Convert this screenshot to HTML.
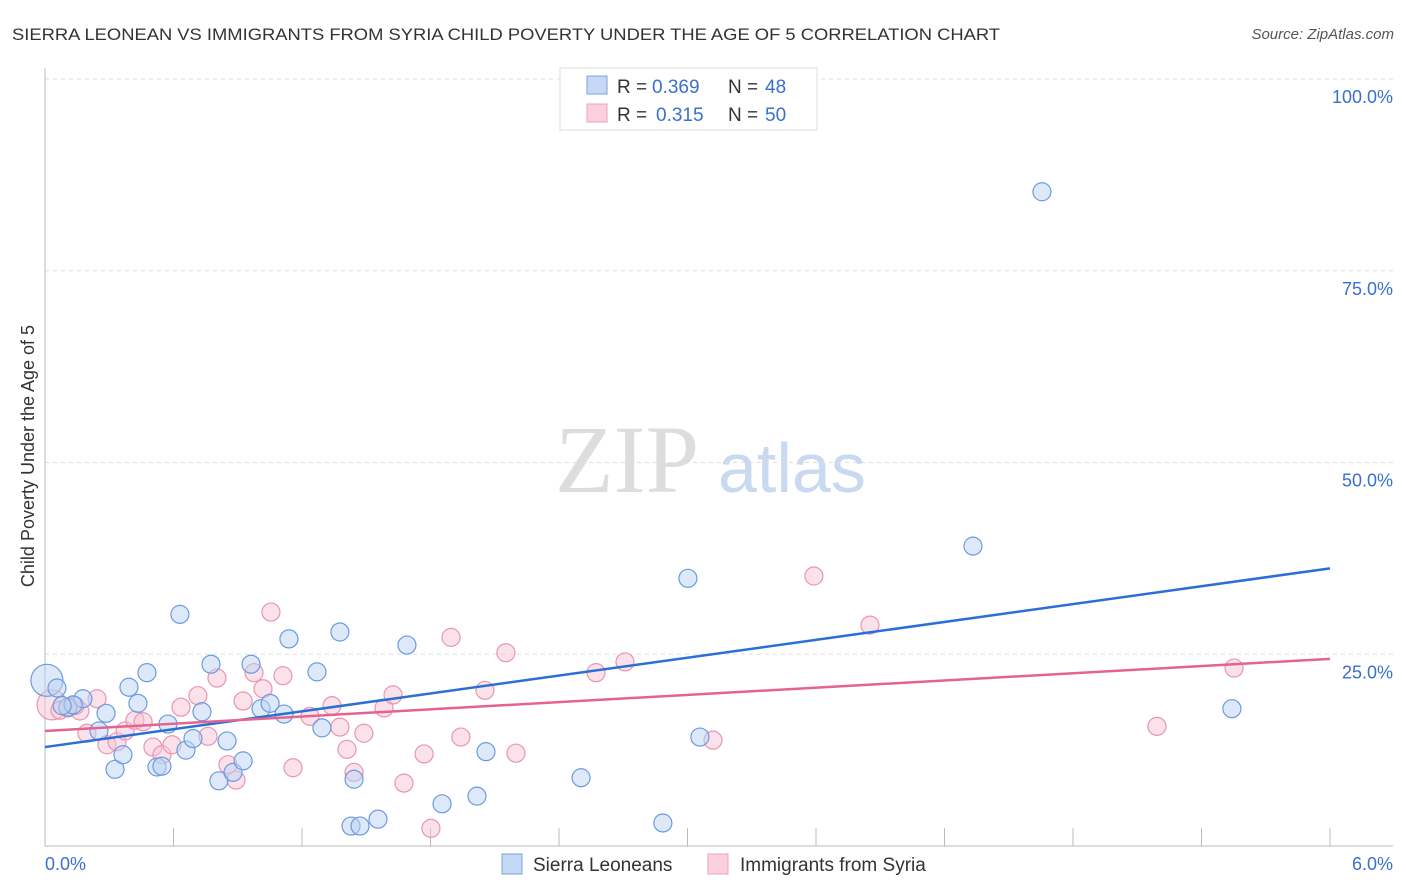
<!DOCTYPE html>
<html><head><meta charset="utf-8"><style>
body{margin:0;background:#fff;font-family:"Liberation Sans",sans-serif;}
svg{display:block}
</style></head><body>
<svg id="chart" width="1406" height="892">
<text x="12" y="40" font-size="17" fill="#333" textLength="988" lengthAdjust="spacingAndGlyphs">SIERRA LEONEAN VS IMMIGRANTS FROM SYRIA CHILD POVERTY UNDER THE AGE OF 5 CORRELATION CHART</text>
<text x="1394" y="39" font-size="15" fill="#555" font-style="italic" text-anchor="end">Source: ZipAtlas.com</text>
<text x="555" y="492" font-size="96" fill="#ddd" font-family="Liberation Serif,serif">ZIP</text>
<text x="718" y="492" font-size="70" fill="#c8d9f0">atlas</text>
<text transform="translate(34,456) rotate(-90)" font-size="18" fill="#333" text-anchor="middle">Child Poverty Under the Age of 5</text>
<g id="grid"></g><g id="pts"></g><g id="lines"></g>
<g>
<rect x="560" y="68" width="257" height="62" fill="#fff" stroke="#ddd"/>
<rect x="587" y="76" width="20" height="18" fill="#c5d9f5" stroke="#7aa3e0"/>
<rect x="587" y="104" width="20" height="18" fill="#fbd0dd" stroke="#eea0b8"/>
<text x="617" y="93" font-size="19" fill="#333">R =</text>
<text x="652" y="93" font-size="19" fill="#3a6fd0">0.369</text>
<text x="728" y="93" font-size="19" fill="#333">N =</text>
<text x="765" y="93" font-size="19" fill="#3a6fd0">48</text>
<text x="617" y="121" font-size="19" fill="#333">R =</text>
<text x="656" y="121" font-size="19" fill="#3a6fd0">0.315</text>
<text x="728" y="121" font-size="19" fill="#333">N =</text>
<text x="765" y="121" font-size="19" fill="#3a6fd0">50</text>
</g>
<g>
<rect x="502" y="854" width="20" height="20" fill="#c5d9f5" stroke="#7aa3e0"/>
<text x="533" y="871" font-size="19" fill="#333">Sierra Leoneans</text>
<rect x="708" y="854" width="20" height="20" fill="#fbd0dd" stroke="#eea0b8"/>
<text x="740" y="871" font-size="19" fill="#333">Immigrants from Syria</text>
</g>
<text x="45" y="870" font-size="18" fill="#3a6fd0">0.0%</text>
<text x="1393" y="870" font-size="18" fill="#3a6fd0" text-anchor="end">6.0%</text>
</svg>
<script>
const blueX=[0.009,0.056,0.107,0.177,0.131,0.252,0.285,0.327,0.364,0.392,0.434,0.476,0.523,0.546,0.574,0.630,0.658,0.691,0.733,0.775,0.812,0.850,0.878,0.925,0.962,1.009,1.051,1.116,1.139,1.270,1.293,1.377,1.429,1.471,1.443,1.555,1.690,1.854,2.017,2.059,2.503,2.885,3.002,3.058,4.333,4.655,5.542,0.08];
const blueY=[21.6,20.6,18.1,19.2,18.4,15.0,17.3,10.0,11.9,20.7,18.6,22.6,10.3,10.4,15.9,30.2,12.5,14.0,17.5,23.7,8.5,13.7,9.6,11.1,23.7,17.9,18.6,17.2,27.0,22.7,15.4,27.9,2.6,2.6,8.7,3.5,26.2,5.5,6.5,12.3,8.9,3.0,34.9,14.2,39.1,85.3,17.9,18.3];
const pinkX=[0.033,0.070,0.107,0.163,0.243,0.196,0.289,0.336,0.374,0.420,0.458,0.504,0.546,0.593,0.635,0.714,0.761,0.803,0.854,0.892,0.925,0.976,1.018,1.055,1.111,1.158,1.237,1.340,1.377,1.410,1.443,1.489,1.583,1.625,1.676,1.770,1.802,1.896,1.942,2.054,2.152,2.199,2.573,2.708,3.119,3.590,3.852,5.192,5.552,0.14];
const pinkY=[18.4,17.7,18.0,17.6,19.2,14.7,13.2,13.6,15.0,16.4,16.2,12.9,11.9,13.2,18.1,19.6,14.3,21.9,10.6,8.6,18.9,22.6,20.5,30.5,22.2,10.2,16.9,18.3,15.5,12.6,9.6,14.7,18.0,19.7,8.2,12.0,2.3,27.2,14.2,20.3,25.2,12.1,22.6,24.0,13.8,35.2,28.8,15.6,23.2,18.3];
const blueTrend=[12.9,36.2];
const pinkTrend=[15.0,24.4];
const yTicks=[25,50,75,100];
const yTickLabels=["25.0%","50.0%","75.0%","100.0%"];
const xTicks=[0,0.6,1.2,1.8,2.4,3.0,3.6,4.2,4.8,5.4,6.0];
const NS="http://www.w3.org/2000/svg";
const X=v=>45+v/6*1285, Y=v=>846-v/100*767;
function mk(t,a,p){const e=document.createElementNS(NS,t);for(const k in a)e.setAttribute(k,a[k]);p.appendChild(e);return e;}
const g=document.getElementById('grid');
yTicks.forEach((t,i)=>{
 const l=mk('line',{x1:45,x2:1393,y1:Y(t),y2:Y(t),stroke:'#ddd','stroke-dasharray':'4,4'},g);
 
 
 const tx=mk('text',{x:1393,y:Y(t)+24,'font-size':18,fill:'#3a6fd0','text-anchor':'end'},g);
 tx.textContent=yTickLabels[i];
 
 
});
const ax=mk('line',{x1:45,x2:45,y1:68,y2:846,stroke:'#bbb'},g);


const bx=mk('line',{x1:45,x2:1393,y1:846,y2:846,stroke:'#bbb'},g);


xTicks.forEach(t=>{
 const l=mk('line',{x1:X(t),x2:X(t),y1:828,y2:846,stroke:'#bbb'},g);
 
 
});
const p=document.getElementById('pts');
function dots(xs,ys,fill,stroke,name){
 xs.forEach((x,i)=>{
  const r=i===0?(name==='blue'?16:15):9;
  const c=mk('circle',{cx:X(x),cy:Y(ys[i]),r:r,fill:fill,'fill-opacity':0.5,stroke:stroke,'stroke-width':1.2},p);
  
  
 });
}
dots(pinkX,pinkY,'#f8c6d5','#e995b0','pink');
dots(blueX,blueY,'#bcd4f3','#6b9ae0','blue');
const L=document.getElementById('lines');
const bl=mk('line',{x1:X(0),y1:Y(blueTrend[0]),x2:X(6),y2:Y(blueTrend[1]),stroke:'#2a6fd6','stroke-width':2.5},L);


const pl=mk('line',{x1:X(0),y1:Y(pinkTrend[0]),x2:X(6),y2:Y(pinkTrend[1]),stroke:'#e4638f','stroke-width':2.5},L);


</script>
</body></html>
